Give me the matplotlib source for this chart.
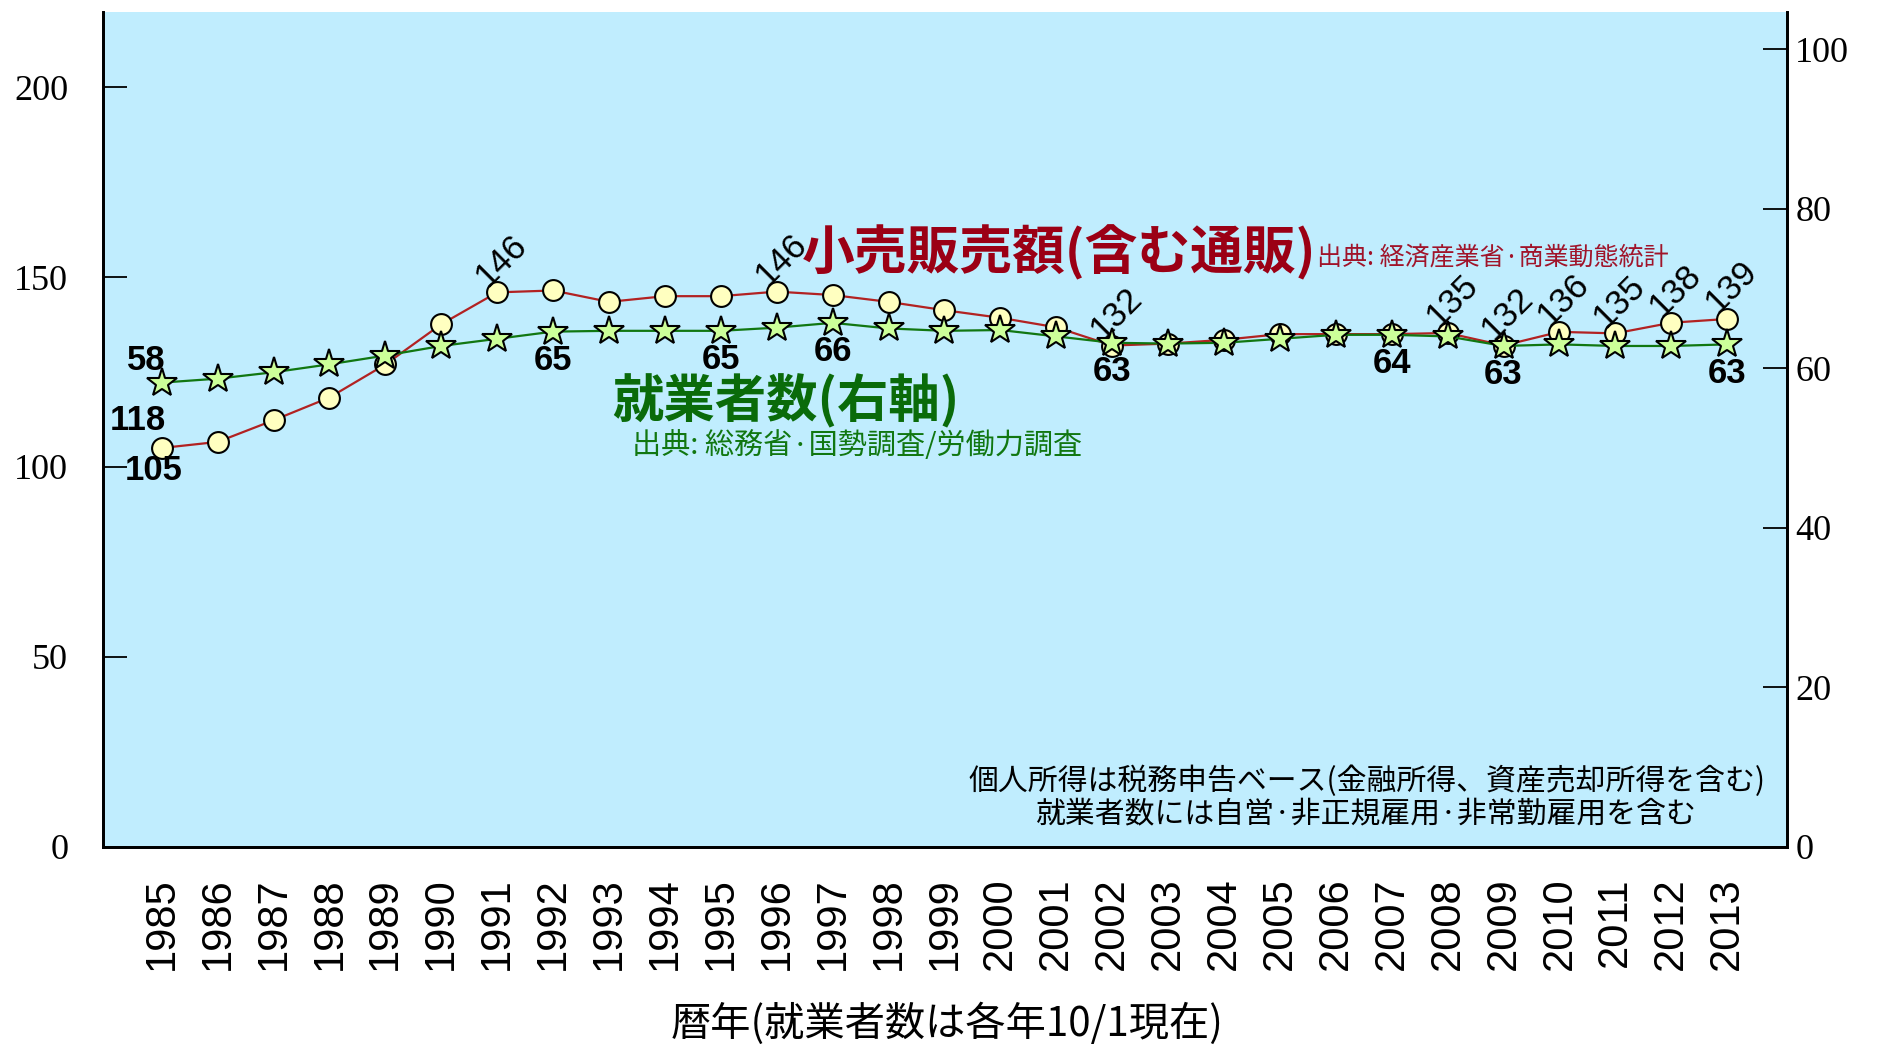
import numpy as np
import matplotlib.pyplot as plt

# 暦年
years = np.arange(1985, 2014)

# 小売販売額 (左軸)
retail = [105.0, 106.6, 112.3, 118.3, 127.0, 137.6, 146.0, 146.5, 143.5, 145.0,
          145.0, 146.2, 145.3, 143.5, 141.3, 139.3, 136.8, 132.0, 132.5, 133.5,
          135.0, 135.0, 135.0, 135.3, 132.0, 135.6, 135.2, 138.0, 139.0]

# 就業者数 (右軸)
workers = [58.2, 58.7, 59.5, 60.5, 61.6, 62.8, 63.7, 64.6, 64.7, 64.7,
           64.7, 65.1, 65.7, 65.0, 64.7, 64.8, 64.0, 63.2, 63.1, 63.2,
           63.7, 64.2, 64.2, 64.0, 62.8, 63.0, 62.8, 62.8, 63.0]

retail_label_years = [1991, 1996, 2002, 2008, 2009, 2010, 2011, 2012, 2013]
worker_label_years = [1992, 1995, 1997, 2002, 2007, 2009, 2013]

left_ticks = [0, 50, 100, 150, 200]
right_ticks = [0, 20, 40, 60, 80, 100]

jp = ['Noto Sans CJK JP', 'DejaVu Sans']
num = ['Liberation Sans', 'DejaVu Sans']
serif = ['Liberation Serif', 'DejaVu Serif']

fig = plt.figure(figsize=(18.83, 10.46), dpi=100)
ax = fig.add_axes([0.0547, 0.1907, 0.8943, 0.7983])
ax.set_facecolor('#C0EDFE')
ax2 = ax.twinx()

ax.plot(years, retail, color='#B22222', lw=1.6, marker='o', ms=15,
        mfc='#FFFFC0', mec='black', mew=1.5, zorder=3)
ax2.plot(years, workers, color='#117711', lw=1.6, marker='*', ms=22,
         mfc='#CCFF99', mec='black', mew=1.5, zorder=3)

ax.set_xlim(1983.95, 2014.07)
ax.set_ylim(0, 220)
ax2.set_ylim(0, 220 / 2.1)

ax.set_xticks(years)
ax.set_xticklabels([str(y) for y in years], rotation=90, family=num, fontsize=30)
ax.tick_params(axis='x', length=0, pad=22)

ax.set_yticks(left_ticks)
ax.set_yticklabels([str(v) for v in left_ticks], family=serif, fontsize=26)
ax.tick_params(axis='y', direction='in', length=17, width=1.3, pad=25)

ax2.set_yticks(right_ticks)
ax2.set_yticklabels([str(v) for v in right_ticks], family=serif, fontsize=26)
ax2.tick_params(axis='y', direction='in', length=17, width=1.3, pad=6)

for a in (ax, ax2):
    a.spines['top'].set_visible(False)
    for s in ('left', 'right', 'bottom'):
        a.spines[s].set_linewidth(2)

# 値ラベル: 小売販売額は斜め、就業者数はマーカーの下
for x, v in zip(years, retail):
    if x in retail_label_years:
        ax.annotate(f"{v:.0f}", (x, v), xytext=(3, 23), textcoords='offset points',
                    rotation=45, ha='center', va='center', fontsize=25, family=num)
for x, v in zip(years, workers):
    if x in worker_label_years:
        ax2.annotate(f"{v:.0f}", (x, v), xytext=(0, -9), textcoords='offset points',
                     ha='center', va='top', fontsize=25, family=num, weight='bold')

ax.annotate(f"{retail[0]:.0f}", (years[0], retail[0]), xytext=(-6, -4),
            textcoords='offset points', ha='center', va='top',
            fontsize=25, family=num, weight='bold', zorder=5)
ax2.annotate(f"{workers[0]:.0f}", (years[0], workers[0]), xytext=(-11, 4),
             textcoords='offset points', ha='center', va='bottom',
             fontsize=25, family=num, weight='bold')
ax.annotate("118", (years[0], retail[0]), xytext=(-17, 8),
            textcoords='offset points', ha='center', va='bottom',
            fontsize=25, family=num, weight='bold')

# 系列名と出典
ax.text(1996.45, 156.5, '小売販売額(含む通販)', color='#9B0015', fontsize=38,
        weight='bold', family=jp, ha='left', va='center')
ax.text(2005.67, 155.2, '出典: 経済産業省·商業動態統計', color='#A0142A', fontsize=18,
        family=jp, ha='left', va='center')
ax.text(1993.06, 117.3, '就業者数(右軸)', color='#0A6B0A', fontsize=37,
        weight='bold', family=jp, ha='left', va='center')
ax.text(1993.42, 105.5, '出典: 総務省·国勢調査/労働力調査', color='#117711', fontsize=21,
        family=jp, ha='left', va='center')

# 注記
ax.text(2006.55, 17.1, '個人所得は税務申告ベース(金融所得、資産売却所得を含む)',
        fontsize=21.5, family=jp, ha='center', va='center')
ax.text(2006.55, 8.6, '就業者数には自営·非正規雇用·非常勤雇用を含む',
        fontsize=21.5, family=jp, ha='center', va='center')

fig.text(0.503, 0.001, '暦年(就業者数は各年10/1現在)', fontsize=29, family=jp,
         ha='center', va='bottom')

fig.savefig('out.png', dpi=100)
